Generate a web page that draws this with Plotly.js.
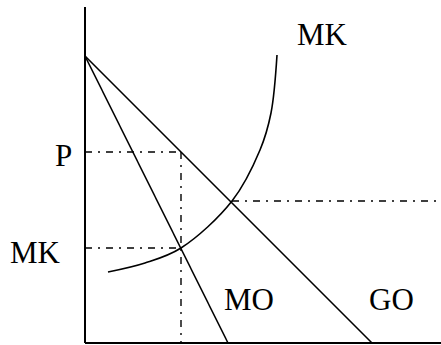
<!DOCTYPE html>
<html>
<head>
<meta charset="utf-8">
<script src="https://cdn.plot.ly/plotly-3.0.1.min.js"></script>
<style>html,body{margin:0;padding:0;background:#fff;}#chart{width:441px;height:345px;}</style>
</head>
<body>
<div id="chart"></div>
<script>
// Diagram values (arbitrary units, origin at the axes corner)
const demandX = [0, 287];            // GO (average revenue / demand)
const demandY = [287, 0];
const mrX = [0, 143];                // MO (marginal revenue)
const mrY = [287, 0];
const mcX = [23, 60, 96, 147, 175, 186, 192];   // MK curve
const mcY = [71, 80, 95, 142, 193, 230, 288];
const qStar = 96;       // quantity where MO = MK
const pStar = 191;      // price on GO at qStar
const mcStar = 95;      // MK level at qStar
const eqX = 147;        // MK crosses GO
const eqY = 142;
const axisXMax = 356;
const axisYMax = 336;
const labels = ["MK", "P", "MK", "MO", "GO"];

const black = "#000";
const dd = "7px,6px,2px,6px";
const traces = [
  {x: [0, axisXMax], y: [0, 0], mode: "lines", line: {color: black, width: 2}},
  {x: [0, 0], y: [0, axisYMax], mode: "lines", line: {color: black, width: 2}},
  {x: demandX, y: demandY, mode: "lines", line: {color: black, width: 1.6}},
  {x: mrX, y: mrY, mode: "lines", line: {color: black, width: 1.6}},
  {x: mcX, y: mcY, mode: "lines", line: {color: black, width: 1.6, shape: "spline", smoothing: 1}},
  {x: [0, qStar], y: [pStar, pStar], mode: "lines", line: {color: black, width: 1.4, dash: dd}},
  {x: [qStar, qStar], y: [pStar, 0], mode: "lines", line: {color: black, width: 1.4, dash: dd}},
  {x: [0, qStar], y: [mcStar, mcStar], mode: "lines", line: {color: black, width: 1.4, dash: dd}},
  {x: [eqX, axisXMax], y: [eqY, eqY], mode: "lines", line: {color: black, width: 1.4, dash: dd}}
];

const font = {family: "Liberation Serif, Times New Roman, serif", size: 31, color: black};
const annPos = [[237, 309], [-22, 188], [-50, 91], [164, 44], [306, 44]];
const annotations = labels.map((t, i) => ({
  x: annPos[i][0], y: annPos[i][1], xref: "x", yref: "y", text: t,
  showarrow: false, xanchor: "center", yanchor: "middle", font: font
}));

const layout = {
  width: 441, height: 345,
  margin: {l: 0, r: 0, t: 0, b: 0},
  paper_bgcolor: "#fff", plot_bgcolor: "#fff",
  showlegend: false,
  xaxis: {range: [-85, 356], visible: false, fixedrange: true},
  yaxis: {range: [-2, 343], visible: false, fixedrange: true},
  annotations: annotations
};
Plotly.newPlot("chart", traces.map(t => Object.assign({hoverinfo: "skip", cliponaxis: false}, t)), layout, {staticPlot: true, displayModeBar: false});
</script>
</body>
</html>
